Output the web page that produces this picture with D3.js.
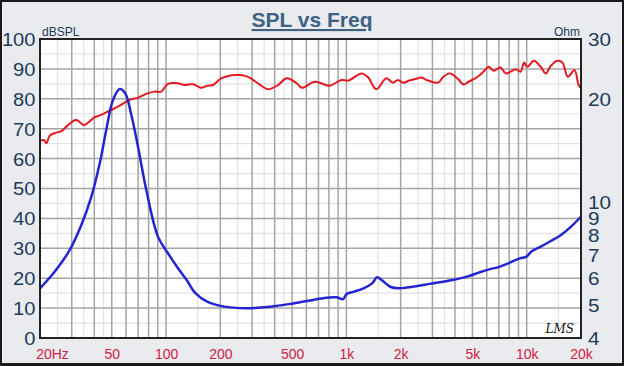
<!DOCTYPE html>
<html>
<head>
<meta charset="utf-8">
<script src="https://cdn.jsdelivr.net/npm/d3@7"></script>
<style>
body { margin: 0; background: #fff; }
svg text { font-family: "Liberation Sans", Arial, sans-serif; }
</style>
</head>
<body>
<script>
// SPL curve (Hz, dB)
var splFreq = [20, 21, 21.7, 22.6, 24, 26.3, 28.6, 31.5, 33, 35, 37.6, 40, 43.6, 48.6, 55, 62.6, 70, 79, 86, 94,
	102, 116, 127, 141, 156, 170, 182, 203, 245, 283, 323, 367, 418, 466, 530, 566, 670, 808, 940, 1025,
	1212, 1318, 1466, 1665, 1812, 1930, 2058, 2240, 2440, 2600, 2840, 3230, 3450, 3760, 4180, 4460, 4760, 5300,
	5770, 6160, 6560, 7150, 7640, 8150, 8680, 9260, 9660, 10080, 10960, 11950, 12750, 13600, 14800, 15800, 16900,
	18400, 19400, 20000];
var splDb = [65.9, 66.2, 65.1, 67.6, 68.5, 69.2, 71.2, 72.9, 72.4, 71.2, 72.4, 73.8, 74.6, 76.0, 77.6, 79.6, 80.4, 81.8, 82.4, 82.4,
	84.9, 85.2, 84.6, 84.9, 83.7, 84.4, 84.6, 86.9, 88.0, 87.4, 85.2, 83.2, 84.6, 86.9, 85.2, 83.7, 85.7, 84.4, 86.3, 86.1,
	88.5, 87.2, 83.2, 86.9, 85.4, 86.3, 85.4, 86.1, 86.7, 87.1, 86.1, 85.4, 87.4, 88.5, 86.5, 84.8, 85.7, 87.2,
	89.1, 90.7, 89.4, 90.5, 88.5, 89.1, 89.9, 89.1, 92.1, 90.7, 92.7, 90.7, 88.5, 91.0, 92.7, 92.1, 87.4,
	89.6, 84.6, 83.5];

// impedance curve (Hz, Ohm)
var impFreq = [20, 24.1, 29.2, 33.9, 38.5, 42.9, 46.6, 50.8, 55.3, 59.4, 64.2, 69.9, 77.7, 90.2, 102.5, 116.5, 131,
	145, 168, 207, 280, 378, 506, 654, 775, 882, 960, 1003, 1094, 1244, 1389, 1480, 1570, 1750, 1950,
	2160, 2890, 3870, 4770, 5440, 6190, 7050, 8030, 9150, 9960, 10620, 11950, 13600, 15500, 17500, 20000];
var impOhm = [5.59, 6.25, 7.23, 8.57, 10.36, 12.98, 16.25, 19.89, 21.42, 20.8, 17.98, 14.52, 10.84, 7.92, 7.08, 6.4, 5.88,
	5.42, 5.12, 4.95, 4.89, 4.94, 5.05, 5.17, 5.25, 5.26, 5.20, 5.38, 5.46, 5.59, 5.78, 6.02, 5.91, 5.65, 5.59,
	5.62, 5.76, 5.91, 6.07, 6.22, 6.35, 6.46, 6.64, 6.84, 6.92, 7.16, 7.40, 7.69, 8.01, 8.44, 9.07];

var freqTicks = [20, 50, 100, 200, 500, 1000, 2000, 5000, 10000, 20000];
var freqLabels = ['20Hz', '50', '100', '200', '500', '1k', '2k', '5k', '10k', '20k'];
var dbTicks = [0, 10, 20, 30, 40, 50, 60, 70, 80, 90, 100];
var ohmTicks = [4, 5, 6, 7, 8, 9, 10, 20, 30];

var W = 624, H = 366;
var pL = 40, pR = 581, pT = 39, pB = 338;

var svg = d3.select('body')
	.append('svg')
	.attr('width', W)
	.attr('height', H);

// background + outer border
svg.append('rect')
	.attr('x', 0).attr('y', 0)
	.attr('width', W).attr('height', H)
	.style('fill', '#1a1a1a');
svg.append('rect')
	.attr('x', 2).attr('y', 2)
	.attr('width', W - 4).attr('height', H - 5)
	.style('fill', '#e9ebef');

var x = d3.scaleLog().domain([20, 20000]).range([pL, pR]);
var yDb = d3.scaleLinear().domain([0, 100]).range([pB, pT]);
var yOhm = d3.scaleLog().domain([4, 30]).range([pB, pT]);

svg.append('rect')
	.attr('x', pL).attr('y', pT)
	.attr('width', pR - pL).attr('height', pB - pT)
	.style('fill', '#fff');

// grid
var minorF = [], majorF = [];
[10, 100, 1000, 10000].forEach(function(d) {
	for (var m = 1; m <= 9; m++) {
		var f = m * d;
		if (f > 20 && f < 20000) majorF.push(f);
		if (m <= 4 && (m + 0.5) * d > 20 && (m + 0.5) * d < 20000) minorF.push((m + 0.5) * d);
	}
});
var minorDb = d3.range(5, 100, 10);
var majorDb = d3.range(10, 100, 10);

var grid = svg.append('g');
grid.selectAll('.vminor').data(minorF).enter().append('line')
	.attr('x1', x).attr('x2', x).attr('y1', pT).attr('y2', pB)
	.style('stroke', '#e2e2e2').style('stroke-width', 1.2);
grid.selectAll('.hminor').data(minorDb).enter().append('line')
	.attr('x1', pL).attr('x2', pR)
	.attr('y1', yDb).attr('y2', yDb)
	.style('stroke', '#e2e2e2').style('stroke-width', 1.2);
grid.selectAll('.vmajor').data(majorF).enter().append('line')
	.attr('x1', x).attr('x2', x).attr('y1', pT).attr('y2', pB)
	.style('stroke', '#a4a4a4').style('stroke-width', 1.5);
grid.selectAll('.hmajor').data(majorDb).enter().append('line')
	.attr('x1', pL).attr('x2', pR)
	.attr('y1', yDb).attr('y2', yDb)
	.style('stroke', '#a4a4a4').style('stroke-width', 1.5);

// curves
var splLine = d3.line()
	.x(function(d) { return x(d[0]); })
	.y(function(d) { return yDb(d[1]); })
	.curve(d3.curveCatmullRom);
var impLine = d3.line()
	.x(function(d) { return x(d[0]); })
	.y(function(d) { return yOhm(d[1]); })
	.curve(d3.curveCatmullRom);

svg.append('path')
	.datum(d3.zip(splFreq, splDb))
	.attr('d', splLine)
	.style('fill', 'none')
	.style('stroke', '#e4191f')
	.style('stroke-width', 2);
svg.append('path')
	.datum(d3.zip(impFreq, impOhm))
	.attr('d', impLine)
	.style('fill', 'none')
	.style('stroke', '#2424d2')
	.style('stroke-width', 2.5);

// plot frame
svg.append('rect')
	.attr('x', pL).attr('y', pT)
	.attr('width', pR - pL).attr('height', pB - pT)
	.style('fill', 'none')
	.style('stroke', '#222')
	.style('stroke-width', 2);

// axes
var navy = '#1d3b5c';
var leftAxis = svg.append('g')
	.attr('transform', 'translate(' + pL + ',0)')
	.call(d3.axisLeft(yDb).tickValues(dbTicks).tickSize(0).tickPadding(4));
var rightAxis = svg.append('g')
	.attr('transform', 'translate(' + pR + ',0)')
	.call(d3.axisRight(yOhm).tickValues(ohmTicks).tickSize(0).tickPadding(6).tickFormat(d3.format('d')));
var bottomAxis = svg.append('g')
	.attr('transform', 'translate(0,' + pB + ')')
	.call(d3.axisBottom(x).tickValues(freqTicks).tickSize(0).tickPadding(11)
		.tickFormat(function(d, i) { return freqLabels[i]; }));

[leftAxis, rightAxis, bottomAxis].forEach(function(a) {
	a.select('.domain').remove();
});
leftAxis.selectAll('text')
	.style('font-size', '18px')
	.style('fill', navy)
	.attr('transform', 'scale(1.12,1)')
	.attr('dy', '0.36em');
rightAxis.selectAll('text')
	.style('font-size', '18px')
	.style('fill', navy)
	.attr('transform', 'scale(1.15,1)')
	.attr('dy', '0.36em');
bottomAxis.selectAll('text')
	.style('font-size', '14px')
	.style('fill', '#d3203e')
	.attr('dy', '0.71em');
bottomAxis.selectAll('.tick').filter(function(d) { return d === 20; })
	.select('text').attr('x', 12);

// labels
svg.append('text')
	.attr('x', 312).attr('y', 27)
	.attr('text-anchor', 'middle')
	.style('font-size', '21px')
	.style('font-weight', 'bold')
	.style('fill', '#3d6283')
	.style('text-decoration', 'underline')
	.text('SPL vs Freq');
svg.append('text')
	.attr('x', 42).attr('y', 36)
	.style('font-size', '12px')
	.style('fill', navy)
	.text('dBSPL');
svg.append('text')
	.attr('x', 580).attr('y', 36)
	.attr('text-anchor', 'end')
	.style('font-size', '12px')
	.style('fill', navy)
	.text('Ohm');
svg.append('text')
	.attr('x', 574).attr('y', 333)
	.attr('text-anchor', 'end')
	.style('font-size', '12px')
	.style('font-style', 'italic')
	.style('font-family', '"DejaVu Serif", serif')
	.style('fill', '#111')
	.text('LMS');
</script>
</body>
</html>
